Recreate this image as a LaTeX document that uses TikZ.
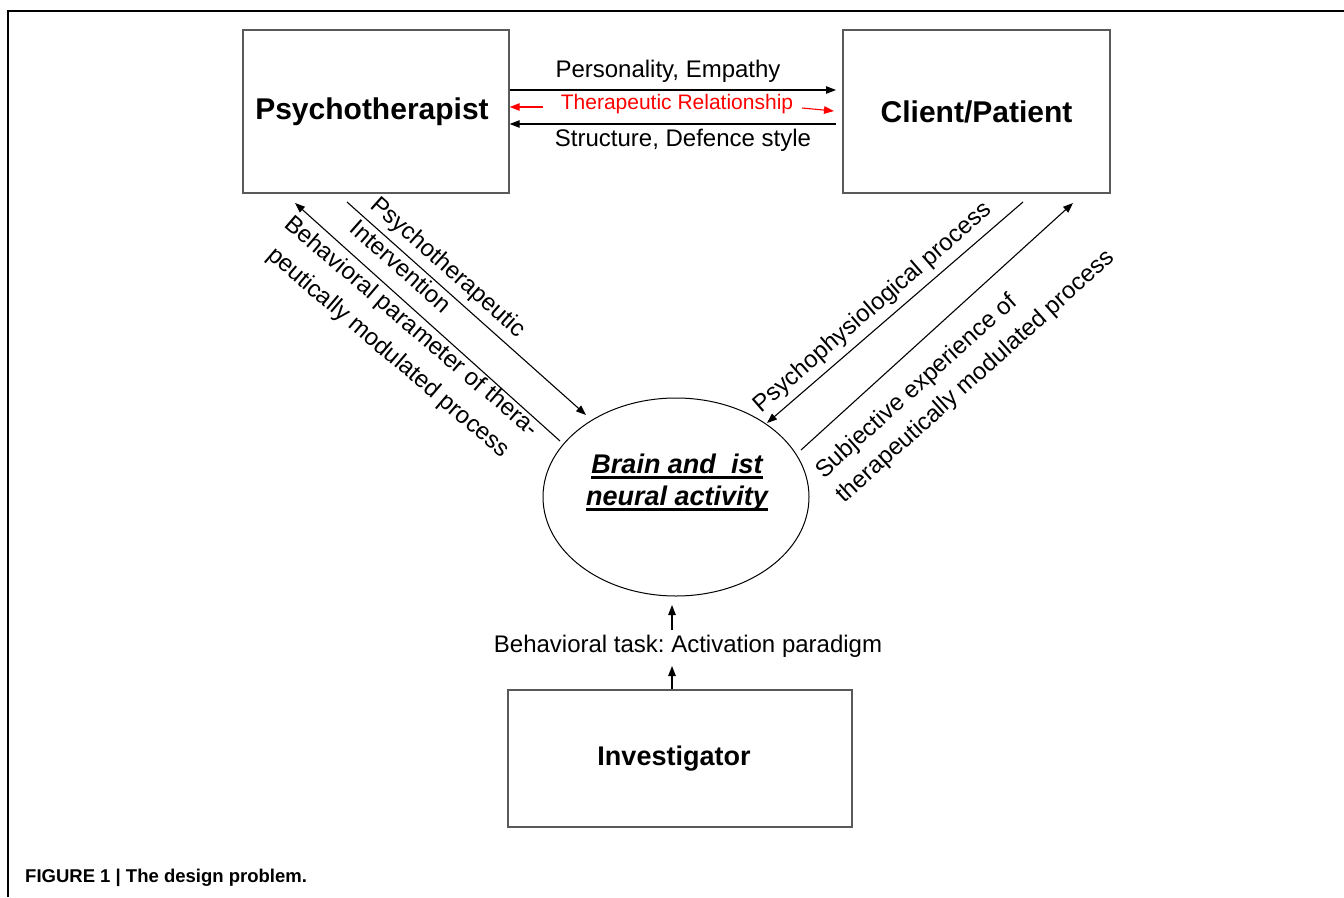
\documentclass[tikz,border=0pt]{standalone}
\usepackage{fontspec}
\setmainfont{Liberation Sans}
\usetikzlibrary{arrows.meta,shapes.geometric}
\frenchspacing
\newcommand{\myul}[1]{\setbox0\hbox{#1}\rlap{\rule[-5pt]{\wd0}{2.6pt}}\box0}
\begin{document}
\begin{tikzpicture}[x=1pt,y=-1pt,
  box/.style={draw=black!65, line width=1.4pt, inner sep=0pt, font=\fontsize{30}{36}\selectfont\bfseries},
  lbl/.style={inner sep=0pt, font=\fontsize{24}{29}\selectfont},
  conn/.style={-{Triangle[length=10pt,width=7.5pt]}, line width=1.1pt},
  redconn/.style={conn, red}]
\useasboundingbox (0,0) rectangle (1344,897);
\draw[line width=1.5pt] (8,897) -- (8,11) -- (1344,11);

\node[box, minimum width=266pt, minimum height=163pt] (psy) at (376,111.5) {\hspace*{-8pt}Psychotherapist};
\node[box, minimum width=267pt, minimum height=163pt] (cli) at (976.5,111.5) {Client/Patient};
\node[box, minimum width=344pt, minimum height=137pt, font=\fontsize{27}{32}\selectfont\bfseries] (inv) at (680,758.5) {\hspace*{-12pt}Investigator};
\node[ellipse, draw, line width=1pt, minimum width=266pt, minimum height=198pt, inner sep=0pt] (brain) at (676,497) {};
\node[align=center, inner sep=0pt, font=\fontsize{27}{32}\selectfont\bfseries\itshape] (brainlbl) at (677,483) {\myul{Brain and\ \ ist}\\\myul{neural activity}};

% top connectors
\coordinate (t1) at (836,90);
\draw[conn] (psy.east |- t1) -- (t1);
\node[lbl] (pe) at (668,71) {Personality, Empathy};
\coordinate (r1) at (543,107);
\draw[redconn] (r1) -- (psy.east |- r1);
\coordinate (r2a) at (802,108);
\coordinate (r2b) at (834,111);
\draw[redconn] (r2a) -- (r2b);
\node[lbl, red, font=\fontsize{21}{25}\selectfont] (tr) at (677,104) {Therapeutic Relationship};
\coordinate (b1) at (836,124);
\draw[conn] (b1) -- (psy.east |- b1);
\node[lbl] (sd) at (683,140) {Structure, Defence style};

% left diagonals
\coordinate (a1s) at (347,202);
\coordinate (a1e) at (586,415);
\draw[conn] (a1s) -- (a1e);
\coordinate (a2s) at (560,441);
\coordinate (a2e) at (295,203);
\draw[conn] (a2s) -- (a2e);
\node[lbl, rotate=-41.5] (l1) at (448,268) {Psychotherapeutic};
\node[lbl, rotate=-41.5] (l2) at (401,266) {Intervention};
\node[lbl, rotate=-40.5] (l3) at (411,327) {Behavioral parameter of thera-};
\node[lbl, rotate=-40.5] (l4) at (388,353) {peutically modulated process};

% right diagonals
\coordinate (c1s) at (1023,202);
\coordinate (c1e) at (767,423);
\draw[conn] (c1s) -- (c1e);
\coordinate (c2s) at (801,450);
\coordinate (c2e) at (1073,203);
\draw[conn] (c2s) -- (c2e);
\node[lbl, rotate=41] (rl1) at (873,308) {Psychophysiological process};
\node[lbl, rotate=42] (rl2) at (917,387) {Subjective experience of};
\node[lbl, rotate=42] (rl3) at (976,377) {therapeutically modulated process};

% bottom
\coordinate (v1) at (672,666);
\draw[conn] (inv.north -| v1) -- (v1);
\node[lbl] (bt) at (688,646) {Behavioral task: Activation paradigm};
\coordinate (v2) at (672,630);
\coordinate (v3) at (672,605);
\draw[conn] (v2) -- (v3);

\node[anchor=base west, inner sep=0pt, font=\fontsize{18.5}{22}\selectfont\bfseries] (cap) at (25,882) {FIGURE 1 | The design problem.};
\end{tikzpicture}
\end{document}
